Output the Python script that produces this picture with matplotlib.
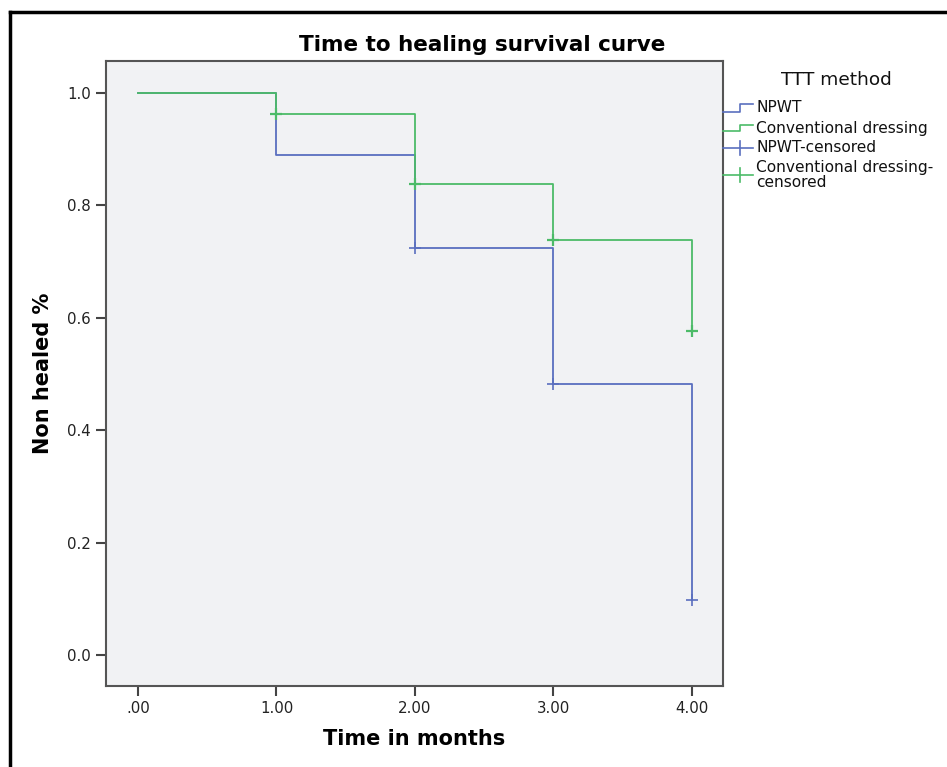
import matplotlib
matplotlib.use("Agg")
import matplotlib.pyplot as plt
from matplotlib.lines import Line2D

# Data (Kaplan-Meier step curves)
times = [0.0, 1.0, 2.0, 3.0, 4.0]
npwt_surv = [1.0, 0.889, 0.724, 0.482, 0.098]
conv_surv = [1.0, 0.962, 0.838, 0.738, 0.577]
npwt_cens_t = [2.0, 3.0, 4.0]
npwt_cens_s = [0.724, 0.482, 0.098]
conv_cens_t = [1.0, 2.0, 3.0, 4.0]
conv_cens_s = [0.962, 0.838, 0.738, 0.577]
xticks = [0, 1, 2, 3, 4]
xticklabels = [".00", "1.00", "2.00", "3.00", "4.00"]
yticks = [0.0, 0.2, 0.4, 0.6, 0.8, 1.0]
yticklabels = ["0.0", "0.2", "0.4", "0.6", "0.8", "1.0"]
legend_labels = ["NPWT", "Conventional dressing", "NPWT-censored", "Conventional dressing-\ncensored"]

BLUE = "#5a6fbf"
GREEN = "#4cbb68"

W, H = 947, 767
fig = plt.figure(figsize=(W / 100, H / 100), dpi=100)
fig.patch.set_facecolor("white")

def fx(px):
    return px / W

def fy(py):
    return 1 - py / H

ax = fig.add_axes([fx(106), fy(686), fx(723) - fx(106), fy(61) - fy(686)])
ax.set_facecolor("#f1f2f4")

ax.step(times, npwt_surv, where="post", color=BLUE, lw=1.3)
ax.step(times, conv_surv, where="post", color=GREEN, lw=1.3)
ax.plot(npwt_cens_t, npwt_cens_s, ls="none", marker="+", ms=9, mew=1.2, color=BLUE)
ax.plot(conv_cens_t, conv_cens_s, ls="none", marker="+", ms=9, mew=1.6, color=GREEN)

ax.set_xlim(-0.231, 4.224)
ax.set_ylim(-0.055, 1.057)
ax.set_xticks(xticks)
ax.set_xticklabels(xticklabels)
ax.set_yticks(yticks)
ax.set_yticklabels(yticklabels)
ax.tick_params(direction="out", length=7, width=1.5, color="#444444", labelsize=10.8,
               labelcolor="#222222", pad=4)
for sp in ax.spines.values():
    sp.set_color("#555555")
    sp.set_linewidth(1.5)

fig.text(fx(482), fy(45), "Time to healing survival curve", ha="center", va="center",
         fontsize=15.5, fontweight="bold")
ax.set_xlabel("Time in months", fontsize=15, fontweight="bold", labelpad=9)
ax.set_ylabel("Non healed %", fontsize=15, fontweight="bold", labelpad=10)

# Outer frame (left and top edges visible)
fig.add_artist(Line2D([fx(10), fx(10)], [fy(12), 0], transform=fig.transFigure, color="black", lw=2.5))
fig.add_artist(Line2D([fx(10), 1], [fy(12), fy(12)], transform=fig.transFigure, color="black", lw=2.5))

# Legend drawn manually
fig.text(fx(836), fy(80), "TTT method", ha="center", va="center", fontsize=13.3, color="#111111")
lx0, lx1, lxm = 723, 753, 740
# step glyphs
for ylo, yhi, col in [(112, 104, BLUE), (131, 125, GREEN)]:
    fig.add_artist(Line2D([fx(lx0), fx(lxm), fx(lxm), fx(lx1)],
                          [fy(ylo), fy(ylo), fy(yhi), fy(yhi)],
                          transform=fig.transFigure, color=col, lw=1.2))
# censored glyphs
for yy, col in [(148, BLUE), (175, GREEN)]:
    fig.add_artist(Line2D([fx(lx0), fx(lx1)], [fy(yy), fy(yy)],
                          transform=fig.transFigure, color=col, lw=1.2))
    fig.add_artist(Line2D([fx(lxm), fx(lxm)], [fy(yy - 7), fy(yy + 7)],
                          transform=fig.transFigure, color=col, lw=1.2))
fs = 11.1
fig.text(fx(756), fy(108), legend_labels[0], ha="left", va="center", fontsize=fs, color="#111111")
fig.text(fx(756), fy(129), legend_labels[1], ha="left", va="center", fontsize=fs, color="#111111")
fig.text(fx(756), fy(148), legend_labels[2], ha="left", va="center", fontsize=fs, color="#111111")
fig.text(fx(756), fy(175), legend_labels[3], ha="left", va="center", fontsize=fs, color="#111111",
         linespacing=0.95)

fig.savefig("out.png", dpi=100)
